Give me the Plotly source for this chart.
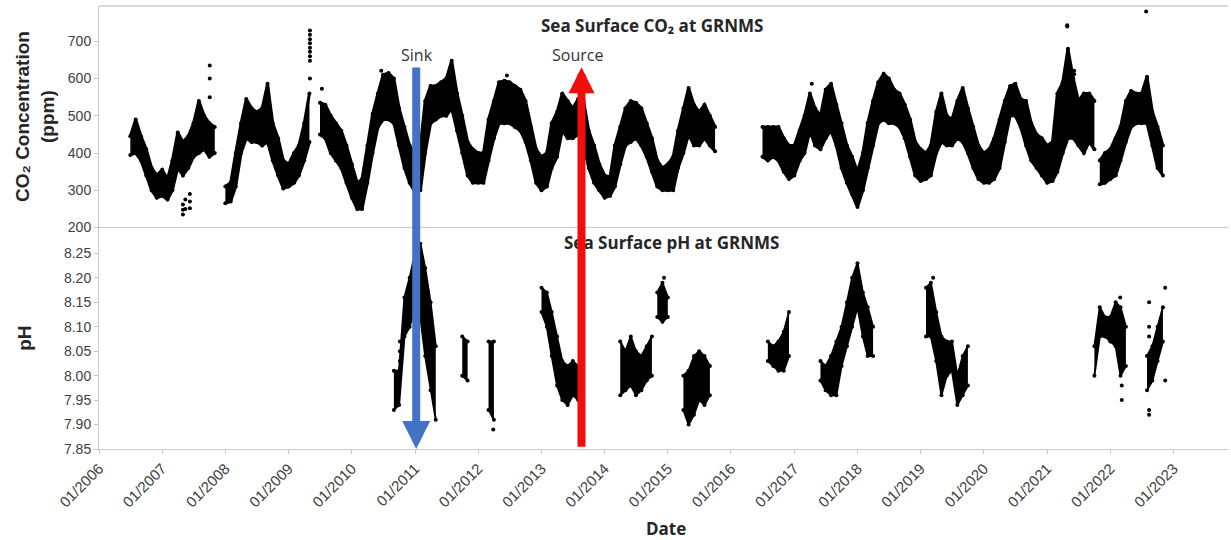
import pandas as pd
import plotly.graph_objects as go

# Sea surface CO2 (ppm): monthly low / high of the point cloud, one list per unbroken record
co2_start = ["2006-07-01", "2008-01-01", "2009-07-01", "2016-07-01", "2021-11-01"]
co2_lo = [
    [395, 400, 380, 340, 300, 280, 285, 275, 300, 360, 340, 360, 390, 400, 410, 390, 400],
    [265, 270, 310, 400, 440, 430, 430, 420, 430, 380, 340, 305, 310, 320, 340, 380, 430],
    [450, 440, 400, 380, 360, 320, 280, 250, 250, 320, 400, 470, 490, 490, 480, 420, 360, 320,
     295, 300, 400, 480, 490, 500, 500, 520, 460, 400, 340, 320, 320, 320, 380, 440, 480, 480,
     480, 470, 460, 430, 380, 320, 300, 310, 360, 390, 460, 440, 440, 450, 420, 360, 320, 300,
     280, 285, 310, 370, 420, 430, 440, 420, 390, 350, 310, 300, 300, 300, 360, 400, 450, 420,
     420, 440, 420, 405],
    [390, 380, 390, 380, 350, 330, 340, 380, 400, 460, 420, 410, 440, 460, 420, 360, 320, 290,
     255, 300, 360, 420, 480, 490, 480, 480, 470, 440, 390, 340, 325, 330, 340, 400, 430, 420,
     420, 440, 430, 400, 360, 330, 320, 320, 330, 360, 430, 500, 500, 470, 420, 380, 360, 340,
     320, 325, 350, 400, 440, 440, 420, 400, 430, 410],
    [316, 320, 330, 340, 380, 430, 470, 480, 480, 480, 420, 360, 340],
]
co2_hi = [
    [445, 490, 445, 410, 360, 340, 355, 330, 380, 455, 430, 445, 480, 540, 500, 480, 470],
    [310, 320, 400, 480, 545, 520, 510, 520, 586, 480, 440, 380, 370, 400, 420, 480, 560],
    [535, 530, 500, 480, 460, 420, 370, 320, 330, 420, 505, 560, 610, 615, 600, 520, 470, 420,
     400, 420, 540, 580, 580, 590, 600, 648, 560, 500, 430, 410, 400, 400, 490, 540, 590, 594,
     590, 580, 570, 540, 470, 410, 390, 400, 480, 510, 560, 540, 520, 545, 540, 460, 420, 370,
     340, 335, 420, 470, 520, 540, 535, 520, 480, 440, 380, 360, 370, 390, 460, 520, 575, 530,
     510, 530, 500, 470],
    [470, 470, 470, 470, 440, 420, 420, 460, 500, 560, 520, 500, 570, 586, 530, 480, 420, 390,
     350, 400, 480, 540, 590, 613, 600, 570, 560, 530, 490, 430, 410, 400, 420, 510, 560, 500,
     490, 540, 575, 520, 470, 420, 400, 410, 440, 490, 540, 580, 586, 545, 540, 480, 450, 440,
     420, 430, 560, 590, 680, 600, 540, 560, 560, 540],
    [380, 400, 410, 440, 470, 540, 567, 560, 560, 605, 510, 470, 420],
]
co2_out_date = ["2007-10-03", "2007-10-03", "2007-10-03", "2007-05-01", "2007-05-01", "2007-05-01",
                "2007-05-15", "2007-05-15", "2007-06-10", "2007-06-10", "2007-06-10",
                "2009-05-04", "2009-05-04", "2009-05-04", "2009-05-04", "2009-05-04", "2009-05-04",
                "2009-05-04", "2009-05-04", "2009-05-04", "2009-07-12", "2010-06-20", "2012-06-15",
                "2017-04-12", "2021-04-27", "2021-04-27", "2021-06-06", "2021-06-06", "2022-07-27"]
co2_out_val = [635, 600, 550, 235, 248, 262, 250, 275, 252, 270, 290,
               729, 718, 706, 695, 683, 672, 660, 648, 600, 573, 621, 608,
               586, 743, 740, 621, 612, 780]

# Sea surface pH: same layout
ph_start = ["2010-09-01", "2011-10-01", "2012-03-01", "2013-01-01", "2014-04-01", "2014-11-01",
            "2015-04-01", "2016-08-01", "2017-06-01", "2019-02-01", "2021-10-01", "2022-08-01"]
ph_lo = [
    [7.93, 7.94, 8.08, 8.10, 8.14, 8.12, 8.04, 7.97, 7.91],
    [8.00, 7.99],
    [7.93, 7.91],
    [8.13, 8.10, 8.04, 7.98, 7.95, 7.94, 7.96, 7.95],
    [7.96, 7.97, 7.98, 7.96, 7.97, 7.99, 8.00],
    [8.12, 8.11, 8.12],
    [7.93, 7.90, 7.92, 7.95, 7.94, 7.96],
    [8.03, 8.02, 8.01, 8.01, 8.04],
    [7.99, 7.97, 7.96, 7.96, 8.02, 8.06, 8.10, 8.14, 8.08, 8.04, 8.04],
    [8.08, 8.08, 8.03, 7.96, 8.00, 8.01, 7.94, 7.96, 7.98],
    [8.00, 8.08, 8.08, 8.07, 8.06, 8.00, 8.02],
    [7.97, 7.99, 8.03, 8.07],
]
ph_hi = [
    [8.01, 8.01, 8.16, 8.20, 8.25, 8.27, 8.22, 8.15, 8.06],
    [8.08, 8.07],
    [8.07, 8.07],
    [8.18, 8.17, 8.13, 8.08, 8.03, 8.02, 8.03, 8.02],
    [8.07, 8.05, 8.08, 8.05, 8.04, 8.06, 8.08],
    [8.17, 8.19, 8.16],
    [8.00, 8.01, 8.04, 8.05, 8.04, 8.02],
    [8.07, 8.06, 8.07, 8.09, 8.13],
    [8.03, 8.02, 8.04, 8.07, 8.10, 8.15, 8.20, 8.23, 8.17, 8.14, 8.10],
    [8.18, 8.19, 8.13, 8.08, 8.07, 8.07, 8.00, 8.04, 8.06],
    [8.06, 8.14, 8.12, 8.12, 8.15, 8.14, 8.10],
    [8.04, 8.06, 8.10, 8.14],
]
ph_out_date = ["2010-10-06", "2010-10-06", "2010-10-06", "2012-03-28", "2014-12-10", "2019-03-14",
               "2022-02-27", "2022-03-08", "2022-03-08", "2022-08-13", "2022-08-13", "2022-08-13",
               "2022-08-13", "2022-08-13", "2022-11-14", "2022-11-14"]
ph_out_val = [8.03, 8.05, 8.07, 7.89, 8.20, 8.20,
              8.16, 7.95, 7.98, 7.92, 7.93, 8.08, 8.10, 8.15, 8.18, 7.99]

dot = dict(size=4, color="black")
fig = go.Figure()


def add_band(start, lo, hi, yaxis, width):
    dates = pd.date_range(start, periods=len(lo), freq="MS")
    fig.add_trace(go.Scatter(x=dates, y=lo, yaxis=yaxis, mode="lines+markers",
                             line=dict(color="black", width=width), marker=dot,
                             showlegend=False, hoverinfo="skip"))
    fig.add_trace(go.Scatter(x=dates, y=hi, yaxis=yaxis, mode="lines+markers",
                             line=dict(color="black", width=width), marker=dot,
                             fill="tonexty", fillcolor="black",
                             showlegend=False, hoverinfo="skip"))


for s, lo, hi in zip(co2_start, co2_lo, co2_hi):
    add_band(s, lo, hi, "y", 3)
for s, lo, hi in zip(ph_start, ph_lo, ph_hi):
    add_band(s, lo, hi, "y2", 2)

fig.add_trace(go.Scatter(x=co2_out_date, y=co2_out_val, yaxis="y", mode="markers",
                         marker=dot, showlegend=False))
fig.add_trace(go.Scatter(x=ph_out_date, y=ph_out_val, yaxis="y2", mode="markers",
                         marker=dot, showlegend=False))

tickfont = dict(family="Liberation Sans, Arial", size=14, color="#404040")
xtickfont = dict(family="Liberation Sans, Arial", size=15, color="#404040")
bold = dict(family="Liberation Sans, Arial", size=19, color="#262626")
cal = dict(family="Open Sans", size=17, color="#262626")

annotations = [
    dict(text="<b>Sea Surface CO₂ at GRNMS</b>", x=0.49, y=0.955, font=cal),
    dict(text="<b>Sea Surface pH at GRNMS</b>", x=0.507, y=0.466, font=cal),
    dict(text="Sink", x=0.282, y=0.889, font=dict(family="Open Sans", size=16, color="#333333")),
    dict(text="Source", x=0.424, y=0.889, font=dict(family="Open Sans", size=16, color="#333333")),
    dict(text="<b>CO₂ Concentration<br>(ppm)</b>", x=-0.056, y=0.751, textangle=-90, font=bold),
    dict(text="<b>pH</b>", x=-0.066, y=0.25, textangle=-90, font=bold),
    dict(text="<b>Date</b>", x=0.502, y=-0.18, font=cal),
]
for a in annotations:
    a.update(xref="paper", yref="paper", showarrow=False, xanchor="center", yanchor="middle")

# sink / source arrows
annotations.append(dict(x="2011-01-08", y=0, xref="x", yref="paper", text="", showarrow=True,
                        ax=0, ay=-383, arrowcolor="#4472C4", arrowwidth=8, arrowhead=2,
                        arrowsize=0.7))
annotations.append(dict(x="2013-08-20", y=0.862, xref="x", yref="paper", text="", showarrow=True,
                        ax=0, ay=381, arrowcolor="#f20d0d", arrowwidth=8, arrowhead=2,
                        arrowsize=0.65))

fig.update_layout(
    width=1231, height=540,
    margin=dict(l=99, r=3, t=6, b=91),
    paper_bgcolor="white", plot_bgcolor="white",
    annotations=annotations,
    xaxis=dict(range=["2006-01-01", "2023-11-12"], anchor="y2", tick0="2006-01-01", dtick="M12",
               tickformat="%m/%Y", tickangle=-45, tickfont=xtickfont, showgrid=False,
               showline=True, linecolor="#c8c8c8", linewidth=1, mirror=True,
               ticks="outside", ticklen=4, tickcolor="#c8c8c8"),
    yaxis=dict(domain=[0.5, 1], range=[200, 795], tickvals=[200, 300, 400, 500, 600, 700],
               anchor="x", tickfont=tickfont, showgrid=False, zeroline=False,
               showline=True, linecolor="#c8c8c8", ticks="outside", ticklen=4, tickcolor="#c8c8c8"),
    yaxis2=dict(domain=[0, 0.5], range=[7.85, 8.303],
                tickvals=[7.85, 7.90, 7.95, 8.00, 8.05, 8.10, 8.15, 8.20, 8.25], tickformat=".2f",
                anchor="x", tickfont=tickfont, showgrid=False, zeroline=False,
                showline=True, linecolor="#c8c8c8", ticks="outside", ticklen=4, tickcolor="#c8c8c8"),
    shapes=[dict(type="line", xref="paper", yref="paper", x0=0, x1=1, y0=1, y1=1,
                 line=dict(color="#d9d9d9", width=2))],
)

# the page's default body margin would shift the figure by 8px
fig.write_html("out.html", config=dict(displayModeBar=False),
               post_script="document.body.style.margin='0';")
